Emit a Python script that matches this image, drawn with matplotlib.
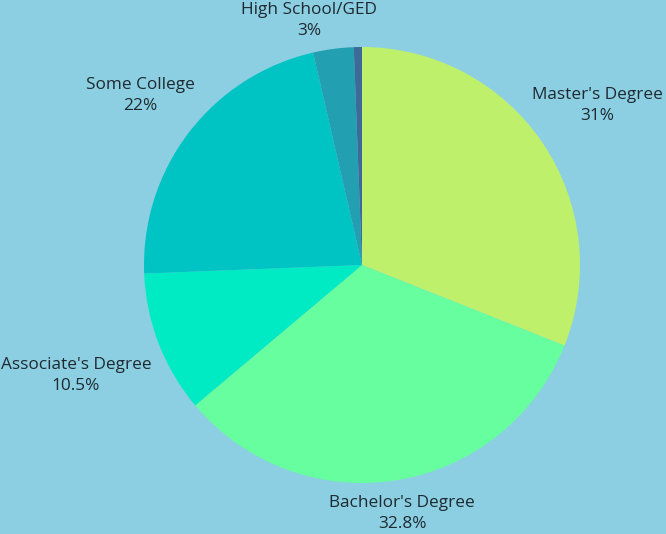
import numpy as np
import matplotlib.pyplot as plt

# === Data ===
categories = ["Master's Degree", "Bachelor's Degree", "Associate's Degree",
              "Some College", "High School/GED", "Doctorate"]
shares = [31.0, 32.8, 10.5, 22.0, 3.0, 0.6]
pct_labels = ["31%", "32.8%", "10.5%", "22%", "3%", ""]
colors = ["#BEF06C", "#66FE9E", "#00EBC4", "#00C3C4", "#22A0B2", "#3E6A9A"]

bg = "#8CCFE2"
text_color = "#1E2A30"

plt.rcParams['font.family'] = ['Open Sans', 'DejaVu Sans']

fig = plt.figure(figsize=(6.66, 5.34), dpi=100)
fig.patch.set_facecolor(bg)
ax = fig.add_axes([0, 0, 1, 1])
ax.set_facecolor(bg)

wedges, _ = ax.pie(shares, colors=colors, startangle=90, counterclock=False,
                   radius=1.0, wedgeprops=dict(linewidth=0))

# pixel frame: centre at (362, 265), radius 218 px
top = 265 / 218
ax.set_xlim(-362 / 218, (666 - 362) / 218)
ax.set_ylim(-(534 - 265) / 218, top)
ax.set_aspect('auto')
ax.axis('off')

# === Labels outside, pushed out along the slice direction ===
texts = []
for w, name, pct in zip(wedges, categories, pct_labels):
    if not pct:
        continue
    ang = np.deg2rad((w.theta1 + w.theta2) / 2)
    t = ax.text(0, 0, f"{name}\n{pct}", ha='center', va='center',
                fontsize=12.4, color=text_color, linespacing=1.42)
    texts.append((t, ang))

fig.canvas.draw()
renderer = fig.canvas.get_renderer()
inv = ax.transData.inverted()
for t, ang in texts:
    bb = t.get_window_extent(renderer)
    (x0, y0), (x1, y1) = inv.transform([[bb.x0, bb.y0], [bb.x1, bb.y1]])
    hw, raw_hh = (x1 - x0) / 2, (y1 - y0) / 2
    hh = 1.8 * raw_hh
    c, s = np.cos(ang), np.sin(ang)
    ext = min(hw / max(abs(c), 1e-6), hh / max(abs(s), 1e-6))
    r = 0.99 + 0.05 * abs(c) + ext
    x, y = r * c, r * s
    # labels sitting right on top get scooted sideways and kept inside the frame
    if s > 0.95:
        x -= 0.09
        y = min(y, top - raw_hh - 0.01)
    t.set_position((x, y))

fig.savefig("out.png", dpi=100, facecolor=bg)
